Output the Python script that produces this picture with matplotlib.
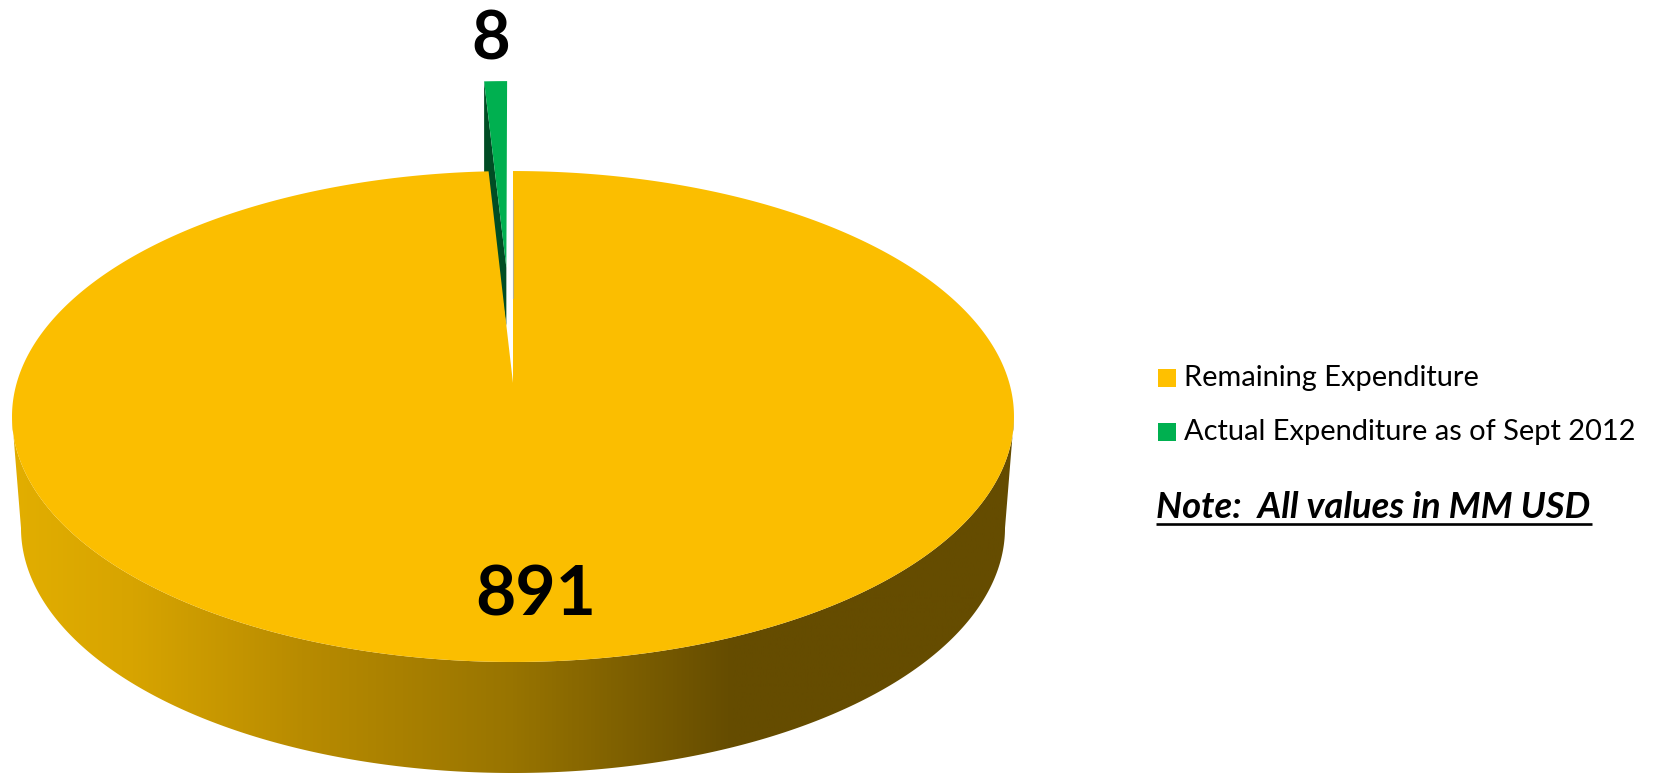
import numpy as np
import matplotlib
matplotlib.use("Agg")
import matplotlib.pyplot as plt
from matplotlib.patches import Polygon, Rectangle
from matplotlib.colors import LinearSegmentedColormap

categories = ["Remaining Expenditure", "Actual Expenditure as of Sept 2012"]
values = [891, 8]
value_labels = ["891", "8"]
note_text = "Note:  All values in MM USD"

YELLOW = "#FBBE00"
GREEN = "#00B050"
DARK = "#004D24"
LEG_YELLOW = "#FFC000"

W, H = 1659, 774
fig = plt.figure(figsize=(W / 100, H / 100), dpi=100, facecolor="white")
ax = fig.add_axes([0, 0, 1, 1])
ax.set_xlim(0, W)
ax.set_ylim(H, 0)
ax.axis("off")

# perspective view of the pie plane (u right, v away from the viewer)
CX, CY, K, HY, AX = 513.0, 383.0, 0.1365, 240.9, 496.3
EXPLODE = 0.512


def proj(u, v):
    u, v = np.asarray(u, float), np.asarray(v, float)
    d = 1 + K * v
    return CX + AX * u / d, CY - HY * v / d


total = sum(values)
sweep = [2 * np.pi * v / total for v in values]

# side wall with horizontal shading
t = np.linspace(0, 2 * np.pi, 721)
tx, ty = proj(np.cos(t), np.sin(t))
il, ir = np.argmin(tx), np.argmax(tx)
arc = np.linspace(t[il], t[ir] + 2 * np.pi if t[ir] < t[il] else t[ir], 361)
ax_, ay_ = proj(np.cos(arc), np.sin(arc))
b = np.linspace(0, np.pi, 361)
bx, by = 513 + 492 * np.cos(b), 528 + 245 * np.sin(b)
wall = Polygon(np.column_stack([np.r_[ax_, bx], np.r_[ay_, by]]), closed=True,
               fc="none", ec="none", transform=ax.transData)
ax.add_patch(wall)
cmap = LinearSegmentedColormap.from_list(
    "wall", [(0, "#E2AE00"), (0.12, "#D7A400"), (0.29, "#B88B00"), (0.5, "#987400"),
             (0.72, "#654C00"), (1, "#654C00")])
im = ax.imshow(np.linspace(0, 1, 512)[None, :], cmap=cmap, aspect="auto",
               extent=[12, 1014, 790, 400], zorder=1)
im.set_clip_path(wall)
ax.set_xlim(0, W)
ax.set_ylim(H, 0)

# exploded small slice (inner wall behind the big slice, then its top)
mid = -sweep[1] / 2
ou, ov = EXPLODE * np.sin(mid), EXPLODE * np.cos(mid)
a = np.linspace(-sweep[1], 0, 20)
gx, gy = proj(ou + np.sin(a), ov + np.cos(a))
ax0, ay0 = proj(ou, ov)
ax.add_patch(Polygon(np.column_stack([np.r_[gx[0], ax0, ax0, gx[0]],
                                      np.r_[gy[0], ay0, ay0 + 58, gy[0] + 91]]),
                     closed=True, fc=DARK, ec="none", zorder=2))
ax.add_patch(Polygon(np.column_stack([np.r_[ax0, gx], np.r_[ay0, gy]]),
                     closed=True, fc=GREEN, ec="none", zorder=3))

# large slice
a = np.linspace(0, sweep[0], 721)
yx, yy = proj(np.sin(a), np.cos(a))
x0, y0 = proj(0.0, 0.0)
ax.add_patch(Polygon(np.column_stack([np.r_[x0, yx], np.r_[y0, yy]]),
                     closed=True, fc=YELLOW, ec="none", zorder=4))
ax.plot([x0 - 0.3, x0 - 0.3], [200, 298], color="#B8AE8A", lw=0.8, zorder=5)

# value labels
ax.text(491, 40, value_labels[1], fontsize=48, fontweight="bold", family="Lato",
        ha="center", va="center", color="black", zorder=6)
ax.text(536, 596, value_labels[0], fontsize=50, fontweight="bold", family="Lato",
        ha="center", va="center", color="black", zorder=6)

# legend
for lab, col, yc in zip(categories, [LEG_YELLOW, GREEN], [378, 432]):
    ax.add_patch(Rectangle((1158, yc - 9), 18, 18, fc=col, ec="none", zorder=6))
    ax.text(1184, yc, lab, fontsize=20.9, family="Lato", ha="left", va="center",
            color="black", zorder=6)

ax.text(1156, 518, note_text, fontsize=26.2, fontweight="bold", style="italic", family="Lato",
        ha="left", va="baseline", color="black", zorder=6)
ax.plot([1156, 1592], [523.5, 523.5], color="black", lw=1.9, solid_capstyle="butt", zorder=6)

fig.savefig("out.png", dpi=100, facecolor="white")
